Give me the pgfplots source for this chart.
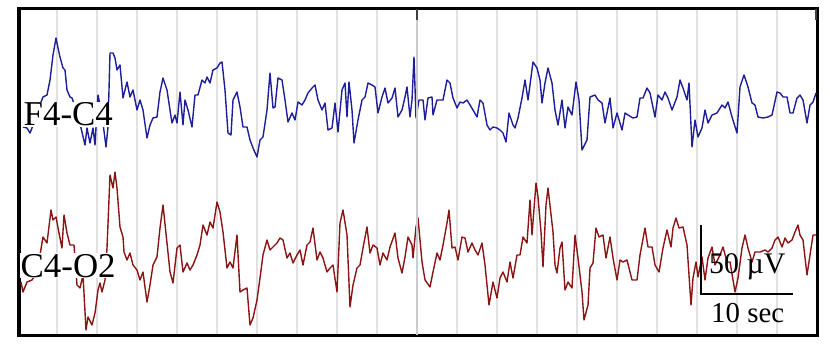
\documentclass[border=0pt]{standalone}
\usepackage{fontspec}
\setmainfont{Liberation Serif}
\usepackage{pgfplots}
\pgfplotsset{compat=1.18}

\definecolor{eegblue}{RGB}{30,30,155}
\definecolor{eegred}{RGB}{140,20,20}
\definecolor{gridgray}{RGB}{225,225,225}

\begin{document}
\begin{tikzpicture}
\useasboundingbox (-19bp,-10bp) rectangle (811bp,335bp);
\begin{axis}[
  name=ax,
  scale only axis,
  width=798bp, height=326bp,
  xmin=19, xmax=817, ymin=9, ymax=335,
  y dir=reverse,
  axis line style={line width=3bp, black},
  xtick={57,97,...,777},
  ytick=\empty,
  xticklabels={},
  major tick length=0pt,
  xmajorgrids,
  major grid style={gridgray, line width=2bp},
]
% F4-C4 (pixel units of the trace)
\addplot[eegblue, line width=1.4bp, line join=round] coordinates {
(23,127) (27,128) (30,133) (32,128) (36,115) (43,97) (47,95) (50,80) (53,55) (56,38)
(58,48) (60,57) (63,68) (65,70) (67,90) (70,97) (72,98) (78,115) (85,145) (87,128)
(90,143) (93,128) (95,145) (97,110) (98,95) (102,115) (106,147) (108,127) (110,53) (113,53)
(115,58) (117,70) (120,65) (123,98) (127,82) (130,97) (133,90) (137,110) (140,100) (143,110)
(147,138) (150,125) (153,118) (157,117) (160,92) (163,78) (167,90) (170,110) (172,123) (175,115)
(177,123) (180,92) (183,125) (185,100) (188,110) (192,127) (195,95) (198,95) (202,80) (205,83)
(207,77) (210,83) (213,70) (217,68) (220,63) (222,62) (225,90) (228,133) (231,135) (233,100)
(237,92) (240,107) (243,127) (247,127) (250,140) (253,148) (257,157) (260,140) (263,137) (267,110)
(270,73) (273,108) (275,107) (278,78) (282,80) (285,100) (288,122) (292,113) (295,120) (298,102)
(302,105) (305,100) (308,93) (312,88) (315,85) (318,100) (322,110) (325,103) (328,130) (332,128)
(335,103) (338,132) (342,90) (345,83) (347,117) (349,82) (352,110) (354,143) (358,120) (362,100)
(365,97) (368,83) (372,85) (375,87) (378,113) (382,97) (385,88) (388,103) (392,98) (395,88)
(398,117) (402,110) (405,97) (407,87) (410,117) (412,100) (414,57) (416,118) (419,100) (423,100)
(425,120) (428,98) (432,97) (433,115) (437,100) (440,100) (443,100) (447,80) (450,83) (453,98)
(457,108) (460,102) (463,103) (467,100) (470,105) (473,110) (477,117) (480,100) (483,103) (487,125)
(490,130) (493,127) (497,128) (500,130) (503,133) (506,142) (509,113) (513,125) (515,128) (518,118)
(522,98) (525,80) (528,100) (533,62) (537,68) (540,80) (542,103) (545,83) (548,68) (552,83)
(555,110) (558,125) (562,100) (565,128) (568,107) (572,115) (576,82) (579,100) (582,150) (587,140)
(590,97) (595,95) (598,100) (602,103) (605,123) (610,98) (613,128) (617,113) (622,130) (625,113)
(628,115) (633,118) (637,117) (640,98) (643,98) (647,88) (650,93) (655,117) (658,95) (662,100)
(665,92) (668,98) (672,110) (677,97) (680,80) (683,88) (687,100) (689,83) (692,147) (695,120)
(698,137) (702,128) (705,110) (708,123) (712,115) (717,113) (722,105) (725,108) (728,102) (732,117)
(737,133) (740,87) (744,75) (748,87) (752,103) (755,105) (758,117) (763,118) (768,117) (772,115)
(777,92) (780,93) (783,97) (787,97) (790,113) (793,113) (797,98) (800,95) (803,100) (807,123)
(810,105) (813,102) (816,93)
};
% C4-O2
\addplot[eegred, line width=1.4bp, line join=round] coordinates {
(21,282) (23,292) (27,282) (32,280) (37,272) (40,255) (43,237) (47,243) (51,210) (53,220)
(56,217) (59,233) (62,248) (64,215) (67,233) (70,245) (74,245) (77,285) (80,288) (83,275)
(86,330) (88,317) (92,325) (95,313) (98,290) (100,283) (102,292) (105,280) (107,248) (110,175)
(113,188) (115,172) (117,188) (120,227) (123,237) (124,252) (127,260) (130,253) (133,265) (137,270)
(140,280) (143,272) (147,302) (150,285) (153,265) (157,257) (160,228) (163,205) (167,243) (170,272)
(173,283) (177,248) (180,245) (183,272) (187,263) (190,270) (193,265) (197,255) (200,245) (203,225)
(207,235) (210,222) (213,228) (217,202) (220,212) (223,232) (227,268) (230,262) (233,268) (237,235)
(240,292) (243,290) (247,288) (250,325) (253,318) (257,300) (260,278) (263,255) (267,240) (270,250)
(273,247) (277,243) (280,238) (283,240) (287,258) (290,253) (293,263) (297,255) (300,250) (303,265)
(307,245) (310,242) (313,228) (317,260) (320,252) (323,258) (327,272) (330,268) (333,265) (337,292)
(340,223) (343,210) (347,235) (350,307) (353,285) (357,268) (360,265) (363,248) (367,227) (370,253)
(373,245) (377,248) (380,265) (383,253) (387,260) (390,247) (395,233) (398,258) (402,273) (405,257)
(408,237) (412,245) (413,258) (416,227) (418,218) (422,262) (425,280) (430,287) (433,272) (437,253)
(440,260) (443,245) (447,223) (449,210) (452,248) (455,247) (458,260) (462,237) (465,238) (468,252)
(472,243) (475,250) (478,255) (482,243) (485,265) (489,305) (493,282) (497,298) (500,278) (503,272)
(507,282) (510,262) (513,278) (517,255) (520,255) (523,237) (527,243) (530,200) (532,235) (536,183)
(538,197) (541,232) (543,267) (546,205) (548,188) (553,232) (555,265) (557,273) (560,248) (562,242)
(565,290) (568,282) (572,288) (575,235) (578,258) (582,292) (584,320) (588,305) (590,268) (593,263)
(596,228) (599,237) (603,235) (606,258) (610,237) (613,258) (617,280) (620,260) (623,262) (627,260)
(632,280) (637,280) (640,255) (645,228) (648,247) (652,247) (655,265) (659,272) (663,248) (667,230)
(671,247) (673,228) (676,218) (679,228) (683,227) (687,245) (691,305) (693,278) (696,262) (698,277)
(702,257) (705,280) (708,258) (712,247) (715,265) (720,255) (723,247) (727,262) (730,262) (735,292)
(738,278) (742,248) (745,235) (748,248) (752,262) (755,252) (760,252) (765,250) (768,252) (772,248)
(775,240) (778,237) (782,247) (785,238) (788,243) (792,240) (795,232) (798,225) (800,235) (803,240)
(807,275) (810,255) (813,235) (816,235)
};
% darker middle division and top ticks
\draw[gray!40, line width=2bp] (axis cs:417,9) -- (axis cs:417,335);
\draw[black!75, line width=2bp] (axis cs:417,9) -- (axis cs:417,20);
\draw[black!75, line width=2bp] (axis cs:816,9) -- (axis cs:816,20);
% channel labels
\node[anchor=base west, fill=white, inner sep=0.5bp, font=\fontsize{35}{35}\selectfont]
  at (axis cs:23,126) {F4-C4};
\node[anchor=base west, fill=white, inner sep=0.5bp, font=\fontsize{35}{35}\selectfont]
  at (axis cs:20,277) {C4-O2};
% scale bar
\draw[black, line width=2.5bp] (axis cs:701,225) -- (axis cs:701,294) -- (axis cs:793,294);
\node[anchor=base west, inner sep=0pt, font=\fontsize{30}{30}\selectfont]
  at (axis cs:709,273) {50 µV};
\node[anchor=base west, inner sep=0pt, font=\fontsize{29}{29}\selectfont]
  at (axis cs:711,322) {10 sec};
\end{axis}
\end{tikzpicture}
\end{document}
